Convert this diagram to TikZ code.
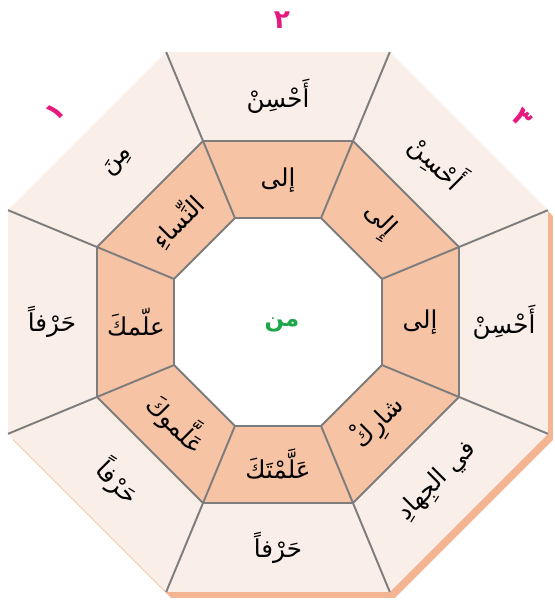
\documentclass[tikz,border=0pt]{standalone}
\usepackage{fontspec}
\newfontfamily\arabicfont[Script=Arabic]{DejaVu Sans}
\TeXXeTstate=1
\definecolor{ringout}{HTML}{FAEEE8}
\definecolor{ringmid}{HTML}{F6C3A5}
\definecolor{shadowc}{HTML}{F3B592}
\definecolor{segline}{HTML}{7D7D7D}
\definecolor{digitc}{HTML}{E6197E}
\definecolor{centerc}{HTML}{1DA64A}
\tikzset{
  wordlabel/.style={font=\arabicfont\fontsize{14}{16}\selectfont},
  digitlabel/.style={font=\arabicfont\bfseries\fontsize{15}{17}\selectfont, text=digitc},
  ringline/.style={draw=segline, line width=1.1pt, line join=round}
}
\begin{document}
\begin{tikzpicture}[x=0.02cm,y=0.02cm]
\useasboundingbox (-278,-291) rectangle (277,322);
% shadow and rings
\fill[shadowc] ([shift={(5,-6)}]22.5:292.2) \foreach \a in {67.5,112.5,...,337.5} {-- ([shift={(5,-6)}]\a:292.2)} -- cycle;
\fill[ringout] (22.5:292.2) \foreach \a in {67.5,112.5,...,337.5} {-- (\a:292.2)} -- cycle;
\filldraw[ringmid, ringline] (22.5:195.9) \foreach \a in {67.5,112.5,...,337.5} {-- (\a:195.9)} -- cycle;
\filldraw[white, ringline] (22.5:112.6) \foreach \a in {67.5,112.5,...,337.5} {-- (\a:112.6)} -- cycle;
\foreach \a in {22.5,67.5,...,337.5}
  \draw[ringline] (\a:112.6) -- (\a:292.2);
% words
\foreach \k/\ang/\rot/\outtxt/\midtxt in {
  1/90/0/{أَحْسِنْ}/{إلى},
  2/45/-45/{أَحْسِنْ}/{إِلى},
  3/0/0/{أَحْسِنْ}/{إلى},
  4/-45/45/{في الجِهادِ}/{شارِكْ},
  5/-90/0/{حَرْفاً}/{عَلَّمْتَكَ},
  6/-135/-45/{حَرْفاً}/{عَلَّموكَ},
  7/180/0/{حَرْفاً}/{علّمكَ},
  8/135/45/{مِنَ}/{النِّساءِ}}
{
  \node[wordlabel, rotate=\rot] (out\k) at (\ang:226) {\beginR\outtxt\endR};
  \node[wordlabel, rotate=\rot] (mid\k) at (\ang:142) {\beginR\midtxt\endR};
}
\node[font=\arabicfont\bfseries\fontsize{13}{15}\selectfont, text=centerc] (centre) at (4,-3) {\beginR من\endR};
% numbers
\node[digitlabel, rotate=45] (num1) at (-223,210) {١};
\node[digitlabel] (num2) at (4,302) {٢};
\node[digitlabel, rotate=-45] (num3) at (244,204) {٣};
\end{tikzpicture}
\end{document}
